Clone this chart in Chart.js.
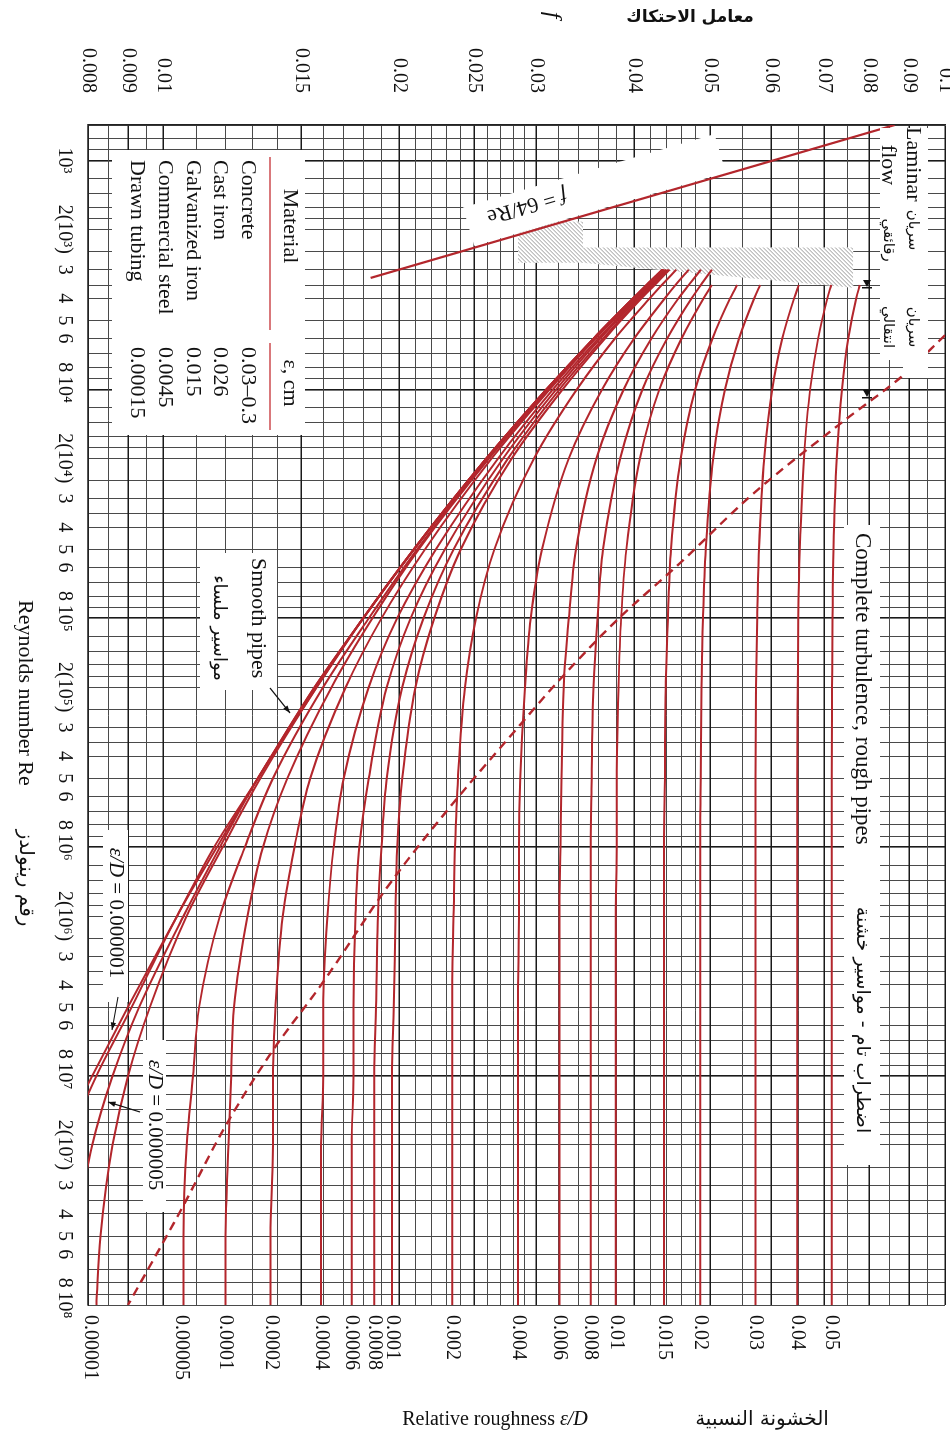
<!DOCTYPE html>
<html>
<head>
<meta charset="utf-8">
<script src="https://cdn.jsdelivr.net/npm/chart.js@4.4.1/dist/chart.umd.min.js"></script>
<style>
  html, body { margin: 0; padding: 0; background: #fff; }
  body { width: 950px; height: 1438px; overflow: hidden; position: relative; }
  /* the chart is drawn lying down (Re across, f up) and turned a quarter clockwise */
  #wrap { position: absolute; left: 0; top: 0; width: 1438px; height: 950px;
          transform-origin: 0 0; transform: translateX(950px) rotate(90deg); }
  canvas { display: block; }
</style>
</head>
<body>
<div id="wrap"><canvas id="moodyChart" width="1438" height="950" style="width:1438px;height:950px"></canvas></div>
<script>
// Reynolds numbers where the curves were read
const RE = [3000, 3500, 4000, 6000, 1e4, 2e4, 5e4, 1e5, 2e5, 5e5, 1e6, 2e6, 5e6, 1e7, 2e7, 5e7, 1e8];

// friction factor f (null = curve not drawn there)
const F_0_05     = [null, 0.0778, 0.0770, 0.0752, 0.0738, 0.0727, 0.0720, 0.0718, 0.0717, 0.0716, 0.0716, 0.0716, 0.0716, 0.0716, 0.0716, 0.0716, 0.0716];
const F_0_04     = [null, 0.0715, 0.0707, 0.0688, 0.0672, 0.0660, 0.0652, 0.0649, 0.0648, 0.0647, 0.0647, 0.0647, 0.0647, 0.0647, 0.0647, 0.0647, 0.0647];
const F_0_03     = [null, 0.0650, 0.0641, 0.0619, 0.0601, 0.0587, 0.0578, 0.0575, 0.0573, 0.0572, 0.0572, 0.0572, 0.0572, 0.0572, 0.0572, 0.0572, 0.0572];
const F_0_02     = [null, 0.0580, 0.0570, 0.0545, 0.0523, 0.0505, 0.0494, 0.0490, 0.0488, 0.0487, 0.0486, 0.0486, 0.0486, 0.0486, 0.0486, 0.0486, 0.0486];
const F_0_015    = [null, 0.0542, 0.0531, 0.0504, 0.0479, 0.0459, 0.0446, 0.0442, 0.0439, 0.0438, 0.0437, 0.0437, 0.0437, 0.0437, 0.0437, 0.0437, 0.0437];
const F_0_01     = [null, 0.0503, 0.0491, 0.0460, 0.0431, 0.0407, 0.0391, 0.0385, 0.0382, 0.0380, 0.0380, 0.0379, 0.0379, 0.0379, 0.0379, 0.0379, 0.0379];
const F_0_008    = [0.0503, 0.0487, 0.0474, 0.0441, 0.0410, 0.0384, 0.0365, 0.0359, 0.0355, 0.0353, 0.0352, 0.0352, 0.0352, 0.0352, 0.0352, 0.0352, 0.0352];
const F_0_006    = [0.0487, 0.0470, 0.0456, 0.0421, 0.0388, 0.0358, 0.0337, 0.0330, 0.0325, 0.0323, 0.0322, 0.0321, 0.0321, 0.0321, 0.0321, 0.0321, 0.0321];
const F_0_004    = [0.0470, 0.0452, 0.0438, 0.0400, 0.0364, 0.0330, 0.0305, 0.0295, 0.0290, 0.0286, 0.0285, 0.0285, 0.0284, 0.0284, 0.0284, 0.0284, 0.0284];
const F_0_002    = [0.0453, 0.0434, 0.0419, 0.0378, 0.0338, 0.0298, 0.0265, 0.0251, 0.0243, 0.0238, 0.0236, 0.0235, 0.0234, 0.0234, 0.0234, 0.0234, 0.0234];
const F_0_001    = [0.0444, 0.0425, 0.0409, 0.0367, 0.0324, 0.0279, 0.0240, 0.0222, 0.0210, 0.0202, 0.0199, 0.0198, 0.0197, 0.0196, 0.0196, 0.0196, 0.0196];
const F_0_0008   = [0.0442, 0.0423, 0.0407, 0.0365, 0.0321, 0.0276, 0.0235, 0.0215, 0.0202, 0.0193, 0.0190, 0.0188, 0.0187, 0.0186, 0.0186, 0.0186, 0.0186];
const F_0_0006   = [0.0440, 0.0421, 0.0405, 0.0362, 0.0318, 0.0272, 0.0229, 0.0207, 0.0193, 0.0183, 0.0178, 0.0176, 0.0175, 0.0175, 0.0174, 0.0174, 0.0174];
const F_0_0004   = [0.0439, 0.0419, 0.0403, 0.0360, 0.0315, 0.0268, 0.0223, 0.0199, 0.0183, 0.0170, 0.0165, 0.0162, 0.0160, 0.0160, 0.0159, 0.0159, 0.0159];
const F_0_0002   = [0.0437, 0.0417, 0.0401, 0.0357, 0.0312, 0.0263, 0.0216, 0.0190, 0.0171, 0.0154, 0.0147, 0.0142, 0.0139, 0.0138, 0.0138, 0.0137, 0.0137];
const F_0_0001   = [0.0436, 0.0416, 0.0400, 0.0356, 0.0311, 0.0261, 0.0212, 0.0185, 0.0164, 0.0144, 0.0134, 0.0128, 0.0123, 0.0122, 0.0121, 0.0120, 0.0120];
const F_0_00005  = [0.0436, 0.0416, 0.0400, 0.0355, 0.0310, 0.0260, 0.0211, 0.0183, 0.0160, 0.0138, 0.0127, 0.0118, 0.0111, 0.0109, 0.0107, 0.0106, 0.0106];
const F_0_00001  = [0.0435, 0.0415, 0.0399, 0.0355, 0.0309, 0.0259, 0.0209, 0.0180, 0.0157, 0.0133, 0.0119, 0.0107, 0.0096, 0.0090, 0.0086, 0.0083, 0.0082];
const F_0_000005 = [0.0435, 0.0415, 0.0399, 0.0355, 0.0309, 0.0259, 0.0209, 0.0180, 0.0157, 0.0132, 0.0118, 0.0106, 0.0093, 0.0086, 0.0081, 0.0077, 0.0074];
const F_0_000001 = [0.0435, 0.0415, 0.0399, 0.0355, 0.0309, 0.0259, 0.0209, 0.0180, 0.0156, 0.0132, 0.0117, 0.0104, 0.0091, 0.0082, 0.0075, null, null];
const F_SMOOTH   = [0.0435, 0.0415, 0.0399, 0.0355, 0.0309, 0.0259, 0.0209, 0.0180, 0.0156, 0.0132, 0.0116, 0.0104, 0.0090, 0.0081, 0.0073, null, null];

const ROUGH_SERIES = [F_0_05, F_0_04, F_0_03, F_0_02, F_0_015, F_0_01, F_0_008, F_0_006, F_0_004, F_0_002,
  F_0_001, F_0_0008, F_0_0006, F_0_0004, F_0_0002, F_0_0001, F_0_00005, F_0_00001, F_0_000005, F_0_000001];

// laminar line f = 64/Re, as drawn
const LAMINAR_RE = [700, 3260];
const LAMINAR_F = [0.0862, 0.0184];

// dashed boundary of complete turbulence
const TURB_RE = [5800, 8800, 13600, 28000, 57000, 103000, 186000, 300000, 650000, 1.4e6, 4.0e6, 7.7e6, 1.65e7, 3.9e7, 1e8];
const TURB_F = [0.1, 0.088, 0.0745, 0.0572, 0.0459, 0.0379, 0.0321, 0.0284, 0.0234, 0.0196, 0.0159, 0.0138, 0.0120, 0.0105, 0.0090];

// relative roughness labels, placed at the fully rough f of each curve
const ROUGH_LABELS = ['0.05', '0.04', '0.03', '0.02', '0.015', '0.01', '0.008', '0.006', '0.004', '0.002',
  '0.001', '0.0008', '0.0006', '0.0004', '0.0002', '0.0001', '0.00005', '0.00001'];
const ROUGH_F = [0.0716, 0.0647, 0.0572, 0.0486, 0.0437, 0.0379, 0.0352, 0.0321, 0.0284, 0.0234,
  0.0196, 0.0186, 0.0174, 0.0159, 0.01373, 0.01198, 0.01054, 0.00806];

// axis tick labels
const F_TICKS = [0.008, 0.009, 0.01, 0.015, 0.02, 0.025, 0.03, 0.04, 0.05, 0.06, 0.07, 0.08, 0.09, 0.1];
const F_TICK_LABELS = ['0.008', '0.009', '0.01', '0.015', '0.02', '0.025', '0.03', '0.04', '0.05', '0.06', '0.07', '0.08', '0.09', '0.1'];
const RE_TICKS = [1e3, 2e3, 3e3, 4e3, 5e3, 6e3, 8e3, 1e4, 2e4, 3e4, 4e4, 5e4, 6e4, 8e4, 1e5, 2e5, 3e5, 4e5, 5e5, 6e5, 8e5,
  1e6, 2e6, 3e6, 4e6, 5e6, 6e6, 8e6, 1e7, 2e7, 3e7, 4e7, 5e7, 6e7, 8e7, 1e8];
const RE_TICK_LABELS = ['10³', '2(10³)', '3', '4', '5', '6', '8', '10⁴', '2(10⁴)', '3', '4', '5', '6', '8',
  '10⁵', '2(10⁵)', '3', '4', '5', '6', '8', '10⁶', '2(10⁶)', '3', '4', '5', '6', '8',
  '10⁷', '2(10⁷)', '3', '4', '5', '6', '8', '10⁸'];

// material table
const MATERIALS = ['Concrete', 'Cast iron', 'Galvanized iron', 'Commercial steel', 'Drawn tubing'];
const EPS_CM = ['0.03–0.3', '0.026', '0.015', '0.0045', '0.00015'];

// grid lines
const RE_MANT = [1, 1.2, 1.4, 1.6, 1.8, 2, 2.5, 3, 3.5, 4, 5, 6, 7, 8, 9];
const RE_GRID = [];
[100, 1e3, 1e4, 1e5, 1e6, 1e7].forEach(d => RE_MANT.forEach(m => {
  const v = m * d;
  if (v >= 700 && v < 1e8) RE_GRID.push(v);
}));
RE_GRID.push(1e8);
const F_GRID = [];
for (let i = 0; i <= 4; i++) F_GRID.push(+(0.008 + i * 0.0005).toFixed(4));
for (let i = 1; i <= 20; i++) F_GRID.push(+(0.01 + i * 0.001).toFixed(4));
for (let i = 1; i <= 10; i++) F_GRID.push(+(0.03 + i * 0.002).toFixed(4));
for (let i = 1; i <= 10; i++) F_GRID.push(+(0.05 + i * 0.005).toFixed(4));

// corners of the hatched critical zone (Re, f)
const HATCH = [[1850, 0.0284], [1850, 0.0344], [2400, 0.0344], [2400, 0.0763], [3600, 0.0763], [2800, 0.0344], [2800, 0.0284]];

const RED = '#b3262c';
const SERIF = '"Liberation Serif", "DejaVu Serif", serif';
const ARABIC = '"DejaVu Sans", "Noto Sans", sans-serif';
const near = (a, b) => Math.abs(a / b - 1) < 1e-6;

function curve(f) {
  return RE.map((r, i) => (f[i] == null ? null : { x: r, y: f[i] })).filter(p => p);
}

function text(ctx, s, u, v, font, align, rot, dir) {
  ctx.save();
  ctx.translate(u, v);
  if (rot) ctx.rotate(rot);
  ctx.font = font;
  ctx.textAlign = align || 'left';
  ctx.textBaseline = 'middle';
  ctx.direction = dir || 'ltr';
  ctx.fillStyle = '#111';
  ctx.fillText(s, 0, 0);
  ctx.restore();
}

// text made of plain and italic pieces, centred on (u, v)
function mixed(ctx, parts, u, v, size, rot) {
  ctx.save();
  ctx.translate(u, v);
  if (rot) ctx.rotate(rot);
  ctx.textBaseline = 'middle';
  ctx.textAlign = 'left';
  ctx.fillStyle = '#111';
  const fonts = parts.map(p => (p[1] ? 'italic ' : '') + size + 'px ' + SERIF);
  const widths = parts.map((p, i) => { ctx.font = fonts[i]; return ctx.measureText(p[0]).width; });
  let x0 = -widths.reduce((s, w) => s + w, 0) / 2;
  parts.forEach((p, i) => { ctx.font = fonts[i]; ctx.fillText(p[0], x0, 0); x0 += widths[i]; });
  ctx.restore();
}

function arrow(ctx, u0, v0, u1, v1) {
  ctx.save();
  ctx.strokeStyle = '#111';
  ctx.fillStyle = '#111';
  ctx.lineWidth = 1.2;
  ctx.beginPath(); ctx.moveTo(u0, v0); ctx.lineTo(u1, v1); ctx.stroke();
  const a = Math.atan2(v1 - v0, u1 - u0);
  ctx.beginPath();
  ctx.moveTo(u1, v1);
  ctx.lineTo(u1 - 8 * Math.cos(a - 0.35), v1 - 8 * Math.sin(a - 0.35));
  ctx.lineTo(u1 - 8 * Math.cos(a + 0.35), v1 - 8 * Math.sin(a + 0.35));
  ctx.closePath(); ctx.fill();
  ctx.restore();
}

function white(ctx, u, v, w, h) {
  ctx.fillStyle = '#fff';
  ctx.fillRect(u, v, w, h);
}

const moodyExtras = {
  id: 'moodyExtras',
  beforeDatasetsDraw(chart) {
    const { ctx, scales: { x, y } } = chart;
    const P = (re, f) => [x.getPixelForValue(re), y.getPixelForValue(f)];

    // hatched critical zone
    const pts = HATCH.map(([re, f]) => P(re, f));
    const us = pts.map(p => p[0]), vs = pts.map(p => p[1]);
    const u0 = Math.min(...us), u1 = Math.max(...us), v0 = Math.min(...vs), v1 = Math.max(...vs);
    ctx.save();
    ctx.beginPath();
    pts.forEach((p, i) => (i ? ctx.lineTo(p[0], p[1]) : ctx.moveTo(p[0], p[1])));
    ctx.closePath();
    ctx.fillStyle = '#fff';
    ctx.fill();
    ctx.clip();
    ctx.strokeStyle = '#9a9a9a';
    ctx.lineWidth = 1;
    const h = v1 - v0;
    for (let t = u0 - h - 4; t < u1 + 4; t += 4) {
      ctx.beginPath(); ctx.moveTo(t, v1); ctx.lineTo(t + h, v0); ctx.stroke();
    }
    ctx.restore();

    // white band under the f = 64/Re label
    const a = P(LAMINAR_RE[0], LAMINAR_F[0]), b = P(LAMINAR_RE[1], LAMINAR_F[1]);
    const len = Math.hypot(b[0] - a[0], b[1] - a[1]);
    const d = [(b[0] - a[0]) / len, (b[1] - a[1]) / len];
    const n = [-d[1], d[0]];
    const foot = P(2022, 0.0298);
    const pt = (s, k) => [foot[0] + d[0] * s + n[0] * k, foot[1] + d[1] * s + n[1] * k];
    ctx.save();
    ctx.fillStyle = '#fff';
    ctx.beginPath();
    [pt(-200, 2), pt(62, 2), pt(62, 42), pt(-200, 42)].forEach((p, i) => (i ? ctx.lineTo(p[0], p[1]) : ctx.moveTo(p[0], p[1])));
    ctx.closePath(); ctx.fill();
    ctx.restore();
    const c = pt(0, 26);
    mixed(ctx, [['f', true], [' = 64/Re', false]], c[0], c[1], 22, Math.atan2(d[1], d[0]));

    // label boxes over the grid
    white(ctx, 150, 645, 285, 193);   // material table
    white(ctx, 553, 673, 137, 77);    // smooth pipes
    white(ctx, 830, 822, 172, 25);    // eps/D = 0.000001
    white(ctx, 1040, 784, 172, 23);   // eps/D = 0.000005
    white(ctx, 525, 70, 640, 36);     // complete turbulence
  },
  afterDatasetsDraw(chart) {
    const { ctx } = chart;

    // laminar / transitional labels box
    white(ctx, 128, 22, 232, 48);
    white(ctx, 360, 22, 18, 25);
    text(ctx, 'Laminar', 127, 37, '22px ' + SERIF);
    text(ctx, 'flow', 165, 62, '22px ' + SERIF, 'center');
    text(ctx, 'سريان', 230, 37, '15px ' + ARABIC, 'center', 0, 'rtl');
    text(ctx, 'رقائقي', 240, 62, '15px ' + ARABIC, 'center', 0, 'rtl');
    text(ctx, 'سريان', 327, 37, '15px ' + ARABIC, 'center', 0, 'rtl');
    text(ctx, 'انتقالي', 327, 62, '15px ' + ARABIC, 'center', 0, 'rtl');
    ctx.save();
    ctx.fillStyle = '#111';
    [287, 397].forEach(u => {
      ctx.beginPath(); ctx.moveTo(u, 83); ctx.lineTo(u - 7, 79); ctx.lineTo(u - 7, 87); ctx.closePath(); ctx.fill();
      ctx.fillRect(u, 78, 1.5, 10);
    });
    ctx.restore();

    // material table
    text(ctx, 'Material', 226, 660, '22px ' + SERIF, 'center');
    text(ctx, 'ε, cm', 383, 660, '22px ' + SERIF, 'center');
    ctx.save();
    ctx.strokeStyle = '#d9787b';
    ctx.lineWidth = 2;
    ctx.beginPath(); ctx.moveTo(157, 680); ctx.lineTo(330, 680); ctx.moveTo(343, 680); ctx.lineTo(430, 680); ctx.stroke();
    ctx.restore();
    MATERIALS.forEach((m, i) => {
      const v = 702 + i * 27.8;
      text(ctx, m, 160, v, '22px ' + SERIF);
      text(ctx, EPS_CM[i], 347, v, '22px ' + SERIF);
    });

    // curve notes
    text(ctx, 'Smooth pipes', 558, 692, '22px ' + SERIF);
    text(ctx, 'مواسير ملساء', 628, 731, '18px ' + ARABIC, 'center', 0, 'rtl');
    arrow(ctx, 688, 680, 713, 660);
    mixed(ctx, [['ε/D', true], [' = 0.000001', false]], 913, 834, 21);
    arrow(ctx, 997, 832, 1030, 838);
    mixed(ctx, [['ε/D', true], [' = 0.000005', false]], 1125, 795, 21);
    arrow(ctx, 1112, 810, 1102, 842);
    text(ctx, 'Complete turbulence, rough pipes', 533, 88, '23px ' + SERIF);
    text(ctx, 'اضطراب تام - مواسير خشنة', 1020, 88, '19px ' + ARABIC, 'center', 0, 'rtl');

    // axis titles
    text(ctx, 'f', 15, 398, 'italic 24px ' + SERIF, 'center');
    text(ctx, 'معامل الاحتكاك', 18, 260, 'bold 17px ' + ARABIC, 'center', -Math.PI / 2, 'rtl');
    text(ctx, 'Reynolds number Re', 600, 925, '22px ' + SERIF);
    text(ctx, 'رقم رينولدز', 878, 925, '20px ' + ARABIC, 'center', 0, 'rtl');
    mixed(ctx, [['Relative roughness ', false], ['ε/D', true]], 1420, 455, 20, -Math.PI / 2);
    text(ctx, 'الخشونة النسبية', 1420, 188, '20px ' + ARABIC, 'center', -Math.PI / 2, 'rtl');
  }
};

const lineStyle = { showLine: true, pointRadius: 0, fill: false, borderColor: RED, cubicInterpolationMode: 'monotone' };
const datasets = ROUGH_SERIES.map(f => Object.assign({ data: curve(f), borderWidth: 2 }, lineStyle));
datasets.push(Object.assign({ data: curve(F_SMOOTH), borderWidth: 2 }, lineStyle));
datasets.push(Object.assign({}, lineStyle, {
  data: LAMINAR_RE.map((r, i) => ({ x: r, y: LAMINAR_F[i] })), borderWidth: 2.2, cubicInterpolationMode: 'default', tension: 0
}));
datasets.push(Object.assign({}, lineStyle, {
  data: TURB_RE.map((r, i) => ({ x: r, y: TURB_F[i] })), borderWidth: 2.4, borderDash: [9, 6]
}));

// keep the plot box fixed: drop the extra room Chart.js reserves for end labels
const noPadV = s => { s.paddingTop = 0; s.paddingBottom = 0; };
const tickFont = { family: SERIF, size: 20 };
const isDecade = v => [1e3, 1e4, 1e5, 1e6, 1e7].some(d => near(d, v));

new Chart(document.getElementById('moodyChart'), {
  type: 'scatter',
  data: { datasets },
  options: {
    responsive: false,
    animation: false,
    events: [],
    layout: { padding: { top: 5, bottom: 0, left: 0, right: 0 } },
    plugins: { legend: { display: false }, tooltip: { enabled: false } },
    scales: {
      x: {
        type: 'logarithmic', min: 700, max: 1e8,
        afterBuildTicks: s => { s.ticks = RE_GRID.map(v => ({ value: v })); },
        afterFit: s => { s.height = 88; s.paddingLeft = 0; s.paddingRight = 0; },
        border: { color: '#222', width: 1.5 },
        grid: {
          drawTicks: false,
          color: c => (c.tick && isDecade(c.tick.value)) ? '#1a1a1a' : '#4a4a4a',
          lineWidth: c => (c.tick && isDecade(c.tick.value)) ? 1.6 : 1
        },
        ticks: {
          autoSkip: false, maxRotation: 0, padding: 12, color: '#111', font: tickFont,
          callback: v => { const i = RE_TICKS.findIndex(t => near(t, v)); return i < 0 ? '' : RE_TICK_LABELS[i]; }
        }
      },
      y: {
        type: 'logarithmic', min: 0.008, max: 0.1, position: 'left',
        afterBuildTicks: s => { s.ticks = F_GRID.map(v => ({ value: v })); },
        afterFit: s => { s.width = 125; noPadV(s); },
        border: { color: '#222', width: 1.5 },
        grid: {
          drawTicks: false,
          color: c => (c.tick && F_TICKS.some(v => near(v, c.tick.value))) ? '#1a1a1a' : '#4a4a4a',
          lineWidth: c => (c.tick && F_TICKS.some(v => near(v, c.tick.value))) ? 1.5 : 1
        },
        ticks: {
          autoSkip: false, padding: 32, color: '#111', font: tickFont,
          callback: v => { const i = F_TICKS.findIndex(t => near(t, v)); return i < 0 ? '' : F_TICK_LABELS[i]; }
        }
      },
      y2: {
        type: 'logarithmic', min: 0.008, max: 0.1, position: 'right',
        afterBuildTicks: s => { s.ticks = ROUGH_F.map(v => ({ value: v })); },
        afterFit: s => { s.width = 133; noPadV(s); },
        border: { display: false },
        grid: { display: false, drawTicks: false },
        ticks: {
          autoSkip: false, padding: 10, color: '#111', font: tickFont,
          callback: (v, i) => ROUGH_LABELS[i]
        }
      }
    }
  },
  plugins: [moodyExtras]
});
</script>
</body>
</html>
